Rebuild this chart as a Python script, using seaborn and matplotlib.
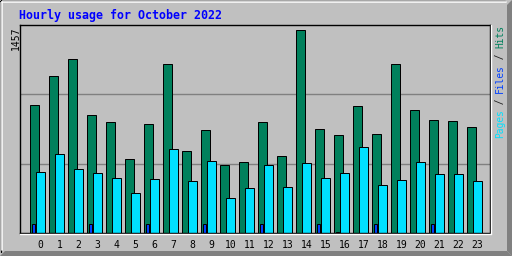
import numpy as np
import pandas as pd
import matplotlib
matplotlib.use("Agg")
import matplotlib.pyplot as plt
from matplotlib.patches import Polygon
from matplotlib.lines import Line2D
import seaborn as sns

# ---- data ----
hours = list(range(24))
hits = [919, 1127, 1249, 847, 797, 531, 782, 1213, 589, 739, 488, 510,
        797, 553, 1457, 746, 703, 911, 711, 1213, 883, 811, 804, 761]
files = [65, 0, 0, 65, 0, 0, 65, 0, 0, 65, 0, 0,
         65, 0, 0, 65, 7, 0, 65, 0, 0, 65, 0, 0]
pages = [438, 567, 459, 431, 395, 287, 388, 603, 373, 517, 251, 323,
         488, 330, 502, 395, 431, 617, 344, 380, 510, 423, 423, 373]
title = "Hourly usage for October 2022"
max_label = "1457"

HIT_C = "#00805C"
FILE_C = "#0040FF"
PAGE_C = "#00E0FF"
BG = "#C0C0C0"

sns.set_style("white")
W, H = 512, 256
fig = plt.figure(figsize=(W / 100, H / 100), dpi=100, facecolor=BG)

# plot area in pixels
L, R, T, B = 20, 490, 25, 233
ax = fig.add_axes([L / W, 1 - B / H, (R - L) / W, (B - T) / H])
ax.set_facecolor(BG)

px = 19.0  # pixels per hour
h = np.array(hours, dtype=float)
lw = 0.72

ymax = 1457 * (B - T) / 203.0

for vals, off, wid, col in [(hits, -0.316, 0.474, HIT_C),
                            (files, -0.35, 0.16, FILE_C),
                            (pages, 0.0, 0.474, PAGE_C)]:
    v = np.array(vals, dtype=float)
    mask = v > 0
    df = pd.DataFrame({"x": h[mask] + off, "y": v[mask]})
    sns.barplot(data=df, x="x", y="y", native_scale=True, width=wid,
                color=col, saturation=1, edgecolor="black", linewidth=lw,
                errorbar=None, ax=ax, zorder=3)

# grid lines
for g in (ymax / 3, 2 * ymax / 3):
    ax.axhline(g, color="#808080", lw=1.0, zorder=1)

ax.set_xlim((L - 40.3) / px, (R - 40.3) / px)
ax.set_ylim(0, ymax)
ax.set_xticks(h)
ax.set_xticklabels([str(i) for i in hours], family="DejaVu Sans Mono",
                   fontsize=7, color="black")
ax.tick_params(axis="x", length=0, pad=5)
ax.set_yticks([])
ax.set_xlabel("")
ax.set_ylabel("")
for s in ax.spines.values():
    s.set_visible(True)
    s.set_color("black")
    s.set_linewidth(1.0)
    s.set_zorder(5)

# white highlight outside right & bottom of plot frame
fig.add_artist(Line2D([(R + 1.2) / W, (R + 1.2) / W], [1 - (T) / H, 1 - (B + 1.2) / H],
                      color="white", lw=1.0))
fig.add_artist(Line2D([L / W, (R + 1.2) / W], [1 - (B + 1.2) / H, 1 - (B + 1.2) / H],
                      color="white", lw=1.0))

# outer bevelled frame
def P(x, y):
    return (x / W, 1 - y / H)

fig.add_artist(Polygon([P(0, 256), P(512, 256), P(507, 251), P(5, 251)],
                       closed=True, facecolor="#808080", edgecolor="none"))
fig.add_artist(Polygon([P(512, 0), P(512, 256), P(507, 251), P(507, 5)],
                       closed=True, facecolor="#808080", edgecolor="none"))
fig.add_artist(Line2D([P(0, 0)[0], P(505, 0)[0]], [1 - 0.5 / H, 1 - 0.5 / H], color="black", lw=0.9))
fig.add_artist(Line2D([0.5 / W, 0.5 / W], [1 - 0 / H, 1 - 252 / H], color="black", lw=0.9))
fig.add_artist(Line2D([1.8 / W, 506 / W], [1 - 1.8 / H, 1 - 1.8 / H], color="white", lw=1.2))
fig.add_artist(Line2D([1.8 / W, 1.8 / W], [1 - 1.8 / H, 1 - 250 / H], color="white", lw=1.2))

# title
fig.text(19 / W, 1 - 19.5 / H, title, family="DejaVu Sans Mono", weight="bold",
         fontsize=8.4, color="#0000FF", ha="left", va="baseline")

# max label
fig.text(15.5 / W, 1 - 26.5 / H, max_label, family="DejaVu Sans Mono", fontsize=7,
         color="black", rotation=90, rotation_mode="anchor", ha="right", va="center")

# legend on the right
cw = 5.6
pieces = [("Pages", PAGE_C, 0), (" / ", "#202020", 5), ("Files", FILE_C, 8),
          (" / ", "#202020", 13), ("Hits", HIT_C, 16)]
for txt, col, off in pieces:
    fig.text(500 / W, 1 - (137.5 - off * cw) / H, txt, family="DejaVu Sans Mono",
             fontsize=6.9, color=col, rotation=90, rotation_mode="anchor",
             ha="left", va="center")

fig.savefig("out.png", dpi=100, facecolor=BG)
